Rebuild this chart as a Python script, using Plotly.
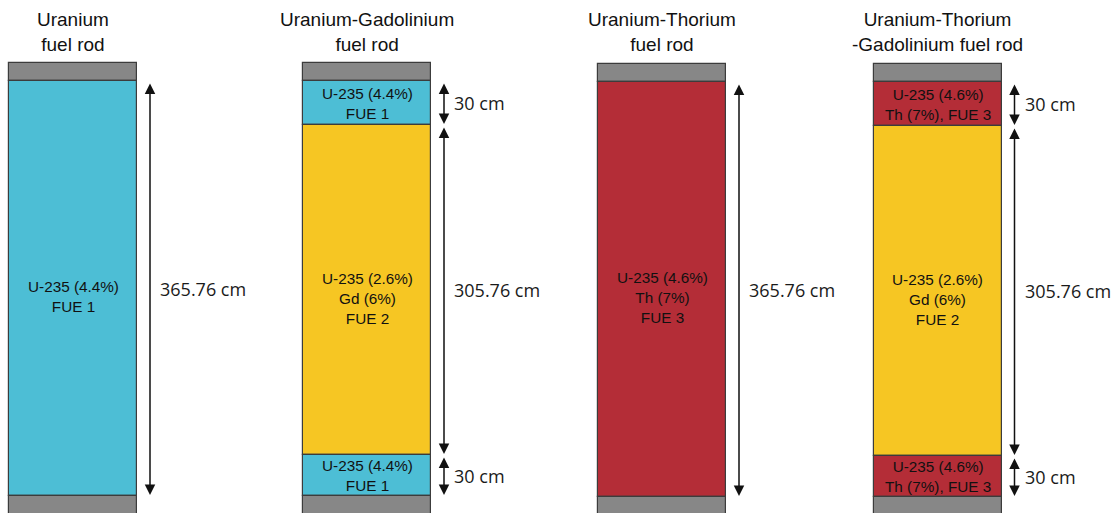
import plotly.graph_objects as go

# ---------------- data ----------------
rod_titles = [
    "Uranium<br>fuel rod",
    "Uranium-Gadolinium<br>fuel rod",
    "Uranium-Thorium<br>fuel rod",
    "Uranium-Thorium<br>-Gadolinium fuel rod",
]
# fuel segments of each rod (top to bottom)
seg_fuel = [
    ["FUE 1"],
    ["FUE 1", "FUE 2", "FUE 1"],
    ["FUE 3"],
    ["FUE 3", "FUE 2", "FUE 3"],
]
seg_length_label = [
    ["365.76 cm"],
    ["30 cm", "305.76 cm", "30 cm"],
    ["365.76 cm"],
    ["30 cm", "305.76 cm", "30 cm"],
]
# drawn (schematic) height of each segment, diagram units
seg_draw = [
    [415],
    [44, 330, 41],
    [415],
    [44, 330, 41],
]
fuel_labels = {
    "FUE 1": "U-235 (4.4%)<br>FUE 1",
    "FUE 2": "U-235 (2.6%)<br>Gd (6%)<br>FUE 2",
    "FUE 3": "U-235 (4.6%)<br>Th (7%)<br>FUE 3",
}
fuel_labels_short = {
    "FUE 1": "U-235 (4.4%)<br>FUE 1",
    "FUE 3": "U-235 (4.6%)<br>Th (7%), FUE 3",
}
fuel_colors = {"FUE 1": "#4DBED5", "FUE 2": "#F6C623", "FUE 3": "#B42D37"}
cap_color = "#878787"

# ---------------- layout constants ----------------
W, H = 1120, 513
rod_centers = [73, 367, 662, 937.5]
rod_top = [63, 63, 64, 64]
rod_width = 128
cap_h = 18
edge = "#3C3C3C"
arrow_gap = 13

fig = go.Figure()
annotations = []

for i, title in enumerate(rod_titles):
    xc = rod_centers[i]
    top = rod_top[i]
    # top cap
    fig.add_trace(go.Bar(x=[xc], base=[top], y=[cap_h], width=rod_width,
                         marker=dict(color=cap_color, line=dict(color=edge, width=1.2)),
                         hoverinfo="skip", showlegend=False))
    y = top + cap_h
    xa = xc + rod_width / 2 + arrow_gap
    for j, fuel in enumerate(seg_fuel[i]):
        h = seg_draw[i][j]
        fig.add_trace(go.Bar(x=[xc], base=[y], y=[h], width=rod_width,
                             marker=dict(color=fuel_colors[fuel], line=dict(color=edge, width=1.2)),
                             hoverinfo="skip", showlegend=False))
        long_seg = h > 200
        label = fuel_labels[fuel] if long_seg else fuel_labels_short[fuel]
        annotations.append(dict(x=xc, y=y + h / 2, xref="x", yref="y", text=label,
                                showarrow=False, yshift=-8 if long_seg else 0,
                                font=dict(family="Liberation Sans, Arial", size=15.3, color="#111111")))
        # double-headed dimension arrow
        annotations.append(dict(x=xa, y=y + h - 1, ax=xa, ay=y + 1, xref="x", yref="y",
                                axref="x", ayref="y", text="", showarrow=True,
                                arrowside="end+start", arrowhead=2, startarrowhead=2,
                                arrowsize=1.4, startarrowsize=1.4, arrowwidth=1.5,
                                arrowcolor="#111111", standoff=0, startstandoff=0))
        annotations.append(dict(x=xa + 8, y=y + h / 2, xref="x", yref="y",
                                text=seg_length_label[i][j], showarrow=False, xanchor="left",
                                font=dict(family="Open Sans, Noto Sans", size=18, color="#1A1A1A")))
        y += h
    # bottom cap (cropped by the picture edge)
    fig.add_trace(go.Bar(x=[xc], base=[y], y=[cap_h + 4], width=rod_width,
                         marker=dict(color=cap_color, line=dict(color=edge, width=1.2)),
                         hoverinfo="skip", showlegend=False))
    annotations.append(dict(x=xc, y=32, xref="x", yref="y", text=title, showarrow=False,
                            font=dict(family="Liberation Sans, Arial", size=19, color="#111111")))

fig.update_layout(
    width=W, height=H, margin=dict(l=0, r=0, t=0, b=0),
    paper_bgcolor="white", plot_bgcolor="white",
    barmode="overlay", bargap=0,
    xaxis=dict(range=[0, W], visible=False, fixedrange=True),
    yaxis=dict(range=[H, 0], visible=False, fixedrange=True),
    annotations=annotations,
)

fig.write_html("out.html", config={"displayModeBar": False},
               post_script="document.body.style.margin='0';")
